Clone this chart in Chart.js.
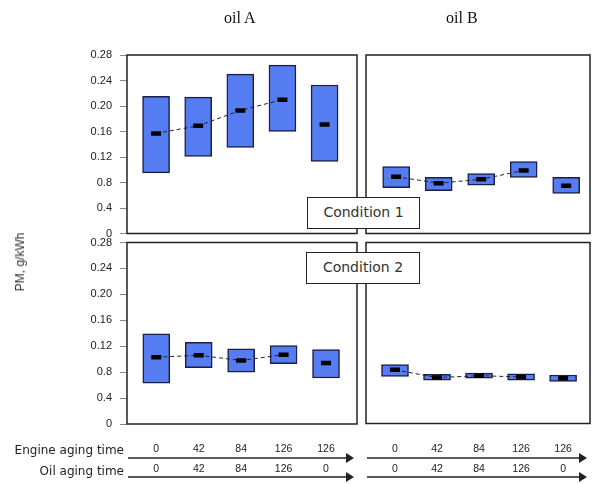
<!DOCTYPE html>
<html>
<head>
<meta charset="utf-8">
<script src="https://cdn.jsdelivr.net/npm/chart.js@4.4.1/dist/chart.umd.min.js"></script>
<style>
  body { margin: 0; background: #fff; }
  #wrap { position: relative; width: 594px; height: 484px; overflow: hidden; }
  #wrap canvas { position: absolute; left: 0; top: 0; }
  .titre { position: absolute; top: 9px; font: 16px "Liberation Serif", "Times New Roman", serif; color: #111; }
  .cond { position: absolute; box-sizing: border-box; background: #fff; border: 1.5px solid #222;
          font: 14px "DejaVu Sans", sans-serif; color: #333; text-align: center; z-index: 5; }
  #ytitle { position: absolute; left: 20px; top: 262px; transform: translate(-50%, -50%) rotate(-90deg);
            font: 12px "Liberation Sans", Arial, sans-serif; color: #333; white-space: nowrap; z-index: 5; }
</style>
</head>
<body>
<div id="wrap">
  <canvas id="c1" width="594" height="484"></canvas>
  <canvas id="c2" width="604" height="484"></canvas>
  <canvas id="c3" width="594" height="484"></canvas>
  <canvas id="c4" width="604" height="484"></canvas>
  <div class="titre" style="left:224px">oil A</div>
  <div class="titre" style="left:446px">oil B</div>
  <div class="cond" style="left:307px;top:197px;width:113px;height:32px;line-height:29px">Condition 1</div>
  <div class="cond" style="left:306px;top:252px;width:114px;height:32px;line-height:29px">Condition 2</div>
  <div id="ytitle">PM, g/kWh</div>
</div>
<script>
// temps de vieillissement (axe du bas)
const engineTime = ['0', '42', '84', '126', '126'];
const oilTime = ['0', '42', '84', '126', '0'];

// ticks de l'axe y (libellés tels qu'ils apparaissent sur la figure)
const yTickValues = [0, 0.04, 0.08, 0.12, 0.16, 0.20, 0.24, 0.28];
const yTickLabels = ['0', '0.4', '0.8', '0.12', '0.16', '0.20', '0.24', '0.28'];

// PM min / max / moyenne, g/kWh
const oilA_c1_low  = [0.095, 0.121, 0.135, 0.160, 0.113];
const oilA_c1_high = [0.215, 0.214, 0.250, 0.264, 0.233];
const oilA_c1_mean = [0.157, 0.169, 0.193, 0.210, 0.171];

const oilB_c1_low  = [0.072, 0.067, 0.076, 0.088, 0.063];
const oilB_c1_high = [0.105, 0.088, 0.094, 0.113, 0.088];
const oilB_c1_mean = [0.089, 0.079, 0.085, 0.099, 0.075];

const oilA_c2_low  = [0.063, 0.087, 0.080, 0.093, 0.071];
const oilA_c2_high = [0.139, 0.126, 0.116, 0.121, 0.115];
const oilA_c2_mean = [0.103, 0.106, 0.098, 0.107, 0.094];

const oilB_c2_low  = [0.073, 0.067, 0.070, 0.067, 0.065];
const oilB_c2_high = [0.091, 0.076, 0.078, 0.077, 0.075];
const oilB_c2_mean = [0.083, 0.071, 0.074, 0.072, 0.070];

// cadre noir autour de chaque panneau
const cadre = {
    id: 'cadre',
    afterDraw(chart) {
        const a = chart.chartArea, ctx = chart.ctx;
        ctx.save();
        ctx.strokeStyle = '#222';
        ctx.lineWidth = 1.5;
        ctx.strokeRect(a.left, a.top, a.right - a.left, a.bottom - a.top);
        ctx.restore();
    }
};

function fleche(ctx, x0, x1, y) {
    ctx.beginPath();
    ctx.moveTo(x0, y);
    ctx.lineTo(x1 - 6, y);
    ctx.stroke();
    ctx.beginPath();
    ctx.moveTo(x1, y);
    ctx.lineTo(x1 - 8, y - 5);
    ctx.lineTo(x1 - 8, y + 5);
    ctx.closePath();
    ctx.fill();
}

// axe du bas : temps moteur / temps huile avec flèches
function axeBas(avecTitres) {
    return {
        id: 'axeBas',
        afterDraw(chart) {
            const ctx = chart.ctx, a = chart.chartArea, xs = chart.scales.x;
            ctx.save();
            ctx.fillStyle = '#222';
            ctx.strokeStyle = '#222';
            ctx.lineWidth = 1.5;
            ctx.font = '10.5px "Liberation Sans", Arial, sans-serif';
            ctx.textAlign = 'center';
            ctx.textBaseline = 'middle';
            engineTime.forEach((t, i) => ctx.fillText(t, xs.getPixelForValue(i), 449));
            oilTime.forEach((t, i) => ctx.fillText(t, xs.getPixelForValue(i), 469));
            fleche(ctx, a.left + 1, a.right - 3, 458);
            fleche(ctx, a.left + 1, a.right - 3, 477);
            if (avecTitres) {
                ctx.font = '12px "DejaVu Sans", sans-serif';
                ctx.textAlign = 'right';
                ctx.fillText('Engine aging time', 124, 451);
                ctx.fillText('Oil aging time', 124, 472);
            }
            ctx.restore();
        }
    };
}

function panneau(id, low, high, mean, pad, xMin, xMax, axeY, extra) {
    const barres = low.map((v, i) => ({ x: i, y: [v, high[i]] }));
    const moyennes = mean.map((v, i) => ({ x: i, y: v }));
    const tendance = mean.map((v, i) => ({ x: i, y: i < 4 ? v : null }));
    const plugins = [cadre];
    if (extra) plugins.push(extra);

    return new Chart(document.getElementById(id), {
        type: 'bar',
        data: {
            datasets: [
                {
                    data: barres,
                    backgroundColor: '#557cf0',
                    borderColor: '#1b1f45',
                    borderWidth: 1.5,
                    borderSkipped: false,
                    barThickness: 27,
                    order: 3
                },
                {
                    type: 'line',
                    data: tendance,
                    borderColor: '#222',
                    borderWidth: 1,
                    borderDash: [4, 3],
                    pointRadius: 0,
                    spanGaps: false,
                    order: 2
                },
                {
                    type: 'line',
                    data: moyennes,
                    showLine: false,
                    pointStyle: 'line',
                    pointRadius: 5,
                    pointBorderWidth: 4.5,
                    pointBorderColor: '#000',
                    order: 1
                }
            ]
        },
        options: {
            responsive: false,
            animation: false,
            events: [],
            layout: { padding: pad },
            plugins: { legend: { display: false }, tooltip: { enabled: false } },
            scales: {
                x: {
                    type: 'linear',
                    display: false,
                    offset: false,
                    min: xMin,
                    max: xMax
                },
                y: {
                    display: axeY,
                    min: 0,
                    max: 0.28,
                    afterFit: s => { s.width = axeY ? 127 : 0; },
                    afterBuildTicks: s => { s.ticks = yTickValues.map(v => ({ value: v })); },
                    border: { display: false },
                    grid: { drawOnChartArea: false, drawTicks: true, tickLength: 7, color: '#888', lineWidth: 1 },
                    ticks: {
                        padding: 8,
                        color: '#222',
                        font: { family: '"Liberation Sans", Arial, sans-serif', size: 11 },
                        callback: (v, i) => yTickLabels[i]
                    }
                }
            }
        },
        plugins: plugins
    });
}

// les canvas de droite font 604 px de large (la marge mini à droite est ~9.5 px)
panneau('c1', oilA_c1_low, oilA_c1_high, oilA_c1_mean,
    { left: 0, right: 237, top: 55, bottom: 250.5 }, -0.69, 4.77, true, null);
panneau('c2', oilB_c1_low, oilB_c1_high, oilB_c1_mean,
    { left: 366, right: 14, top: 55, bottom: 250.5 }, -0.71, 4.56, false, null);
panneau('c3', oilA_c2_low, oilA_c2_high, oilA_c2_mean,
    { left: 0, right: 237, top: 242.5, bottom: 60 }, -0.69, 4.73, true, axeBas(true));
panneau('c4', oilB_c2_low, oilB_c2_high, oilB_c2_mean,
    { left: 366, right: 14, top: 242.5, bottom: 60.5 }, -0.69, 4.64, false, axeBas(false));
</script>
</body>
</html>
